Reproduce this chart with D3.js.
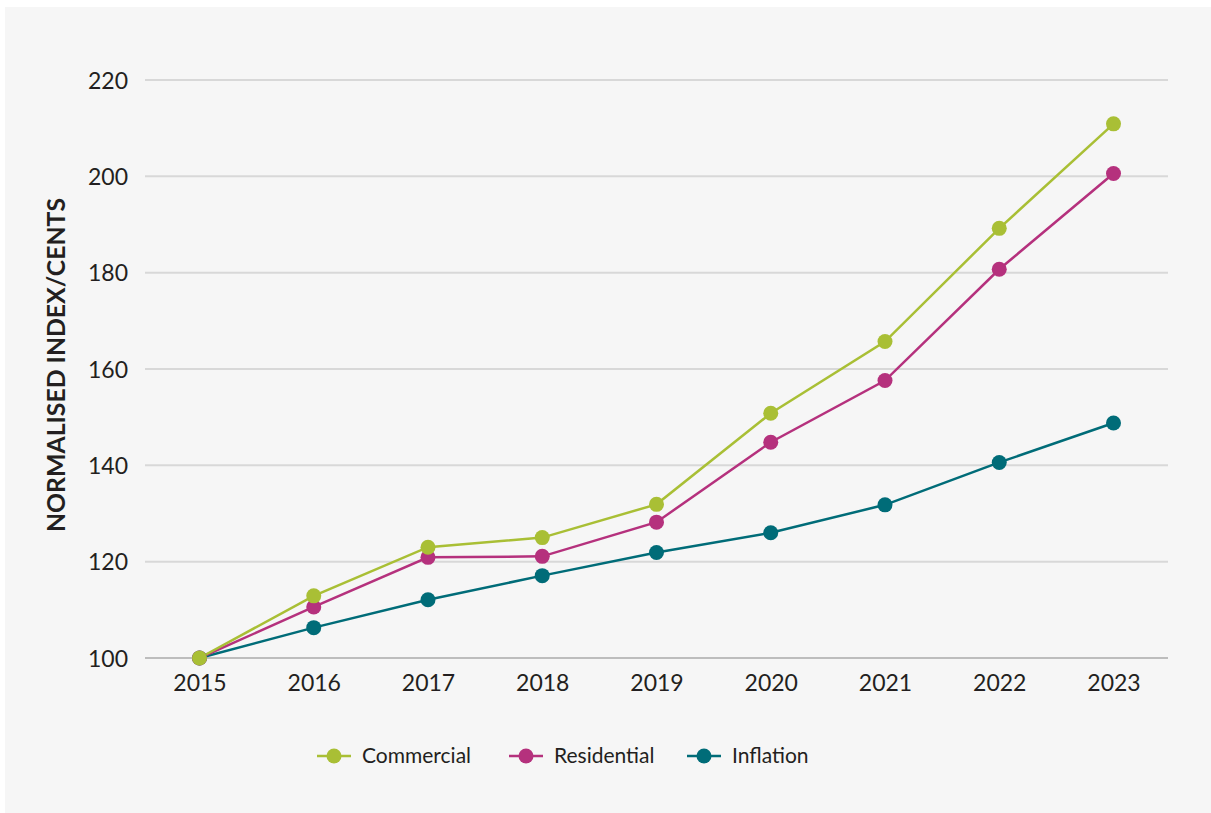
<!DOCTYPE html>
<html>
<head>
<meta charset="utf-8">
<script src="https://cdn.jsdelivr.net/npm/d3@7"></script>
<style>
  body { margin: 0; background: #ffffff; }
  text { font-family: Lato, "Open Sans", sans-serif; fill: #231f20; }
</style>
</head>
<body>
<div id="chart"></div>
<script>
const years = ["2015", "2016", "2017", "2018", "2019", "2020", "2021", "2022", "2023"];
const commercial = [100, 112.9, 123.0, 125.0, 131.9, 150.8, 165.7, 189.2, 210.9];
const residential = [100, 110.6, 120.9, 121.1, 128.2, 144.8, 157.6, 180.7, 200.6];
const inflation = [100, 106.3, 112.1, 117.1, 121.9, 126.0, 131.8, 140.6, 148.8];
const yTicks = [100, 120, 140, 160, 180, 200, 220];

const series = [
  { name: "Commercial", values: commercial, color: "#a9bf35" },
  { name: "Residential", values: residential, color: "#b5317d" },
  { name: "Inflation", values: inflation, color: "#006c78" }
];

const width = 1211;
const height = 813;
const margin = { top: 80, right: 43, bottom: 155, left: 145 };

const svg = d3.select("#chart")
  .append("svg")
  .attr("width", width)
  .attr("height", height);

// grey panel behind everything
svg.append("rect")
  .attr("x", 5).attr("y", 7)
  .attr("width", width - 5).attr("height", height - 7)
  .attr("fill", "#f6f6f6");

const x = d3.scalePoint()
  .domain(years)
  .range([margin.left, width - margin.right])
  .padding(0.477);

const y = d3.scaleLinear()
  .domain([100, 220])
  .range([height - margin.bottom, margin.top]);

// gridlines
svg.append("g")
  .selectAll("line")
  .data(yTicks)
  .join("line")
  .attr("x1", margin.left)
  .attr("x2", width - margin.right)
  .attr("y1", d => y(d))
  .attr("y2", d => y(d))
  .attr("stroke", d => d === 100 ? "#bdbdbd" : "#d8d8d8")
  .attr("stroke-width", 2);

// y axis labels
const yAxis = svg.append("g")
  .attr("transform", `translate(${margin.left - 17},0)`)
  .call(d3.axisLeft(y).tickValues(yTicks).tickSize(0).tickPadding(0));
yAxis.select(".domain").remove();
yAxis.selectAll("text")
  .attr("font-size", 23)
  .attr("dy", "0.35em")
  .style("font-family", "Lato, sans-serif")
  .attr("fill", "#231f20");

// x axis labels
const xAxis = svg.append("g")
  .attr("transform", `translate(0,${y(100)})`)
  .call(d3.axisBottom(x).tickSize(0).tickPadding(17));
xAxis.select(".domain").remove();
xAxis.selectAll("text")
  .attr("font-size", 23)
  .style("font-family", "Lato, sans-serif")
  .attr("fill", "#231f20");

// axis title
svg.append("text")
  .attr("transform", "translate(65,365) rotate(-90)")
  .attr("text-anchor", "middle")
  .attr("font-size", 24)
  .attr("font-weight", "bold")
  .attr("textLength", 334)
  .attr("lengthAdjust", "spacingAndGlyphs")
  .text("NORMALISED INDEX/CENTS");

const line = d3.line()
  .x((d, i) => x(years[i]))
  .y(d => y(d));

// inflation first so the others sit on top
const drawOrder = [series[2], series[1], series[0]];
drawOrder.forEach(s => {
  svg.append("path")
    .datum(s.values)
    .attr("fill", "none")
    .attr("stroke", s.color)
    .attr("stroke-width", 2.5)
    .attr("d", line);
});
drawOrder.forEach(s => {
  svg.append("g")
    .selectAll("circle")
    .data(s.values)
    .join("circle")
    .attr("cx", (d, i) => x(years[i]))
    .attr("cy", d => y(d))
    .attr("r", 7.5)
    .attr("fill", s.color);
});

// legend
const legendX = [317, 509, 687];
const legend = svg.append("g").attr("transform", "translate(0,756)");
series.forEach((s, i) => {
  const g = legend.append("g").attr("transform", `translate(${legendX[i]},0)`);
  g.append("line")
    .attr("x1", 0).attr("x2", 34)
    .attr("stroke", s.color)
    .attr("stroke-width", 2.5);
  g.append("circle")
    .attr("cx", 17).attr("r", 7.5)
    .attr("fill", s.color);
  g.append("text")
    .attr("x", 45)
    .attr("dy", "0.35em")
    .attr("font-size", 21)
    .text(s.name);
});
</script>
</body>
</html>
